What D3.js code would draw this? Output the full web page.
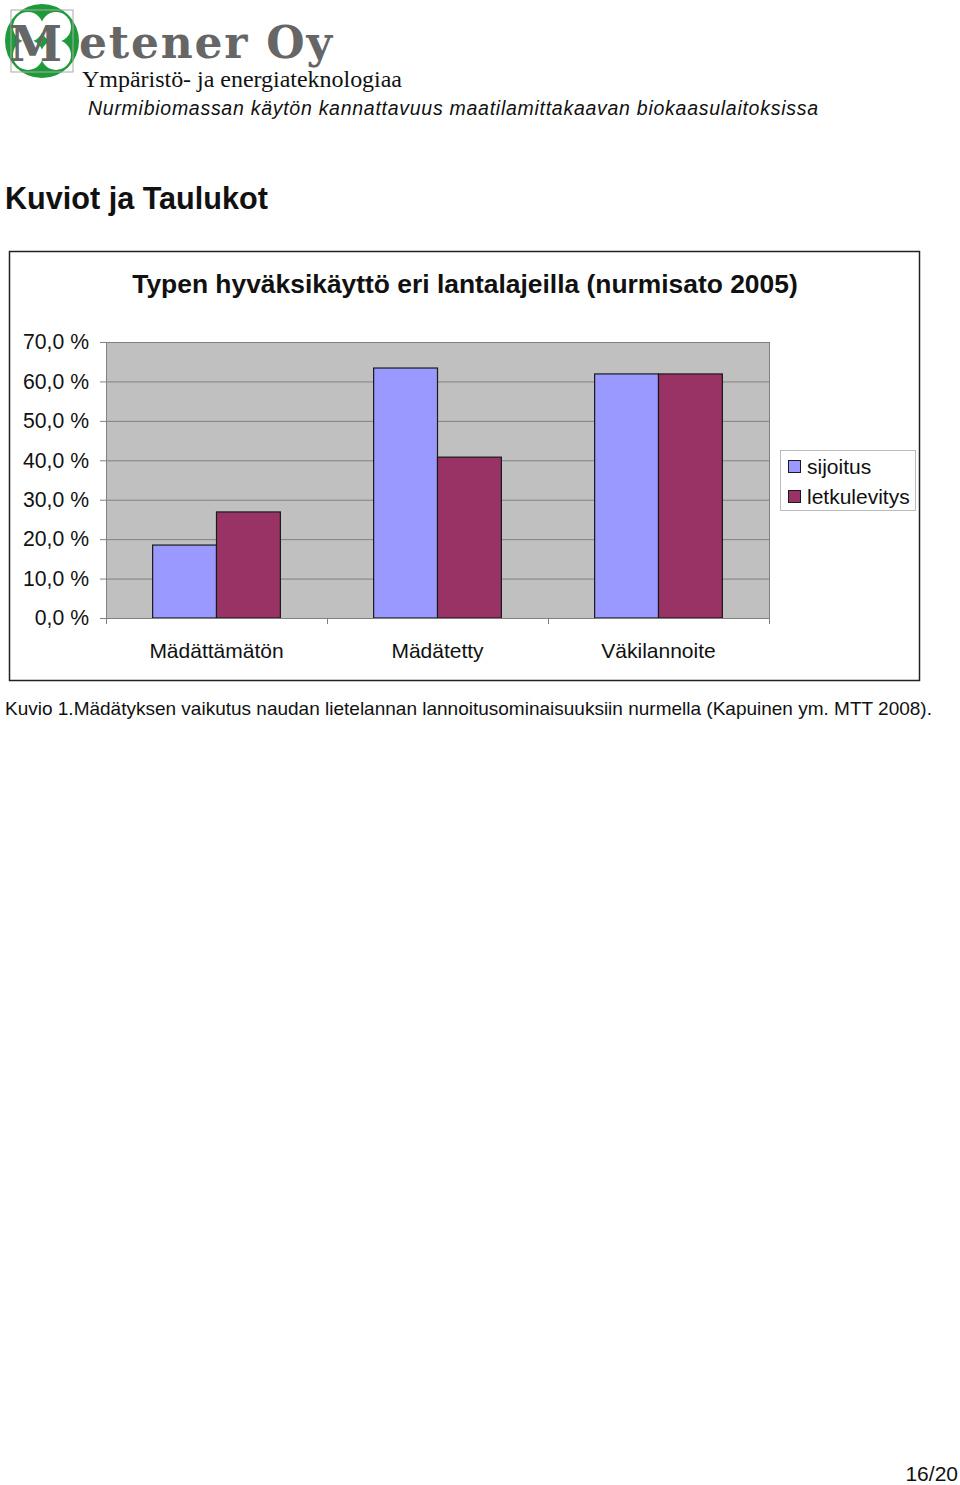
<!DOCTYPE html>
<html>
<head>
<meta charset="utf-8">
<script src="https://cdn.jsdelivr.net/npm/d3@7"></script>
<style>
  html, body { margin: 0; padding: 0; background: #fff; }
  svg { display: block; font-family: "Liberation Sans", Arial, sans-serif; }
</style>
</head>
<body>
<svg id="svg" width="960" height="1485"></svg>
<script>
// chart data
const categories = ["Mädättämätön", "Mädätetty", "Väkilannoite"];
const seriesNames = ["sijoitus", "letkulevitys"];
const sijoitus = [18.5, 63.4, 61.9];
const letkulevitys = [26.9, 40.8, 61.9];
const yTicks = [0, 10, 20, 30, 40, 50, 60, 70];
const colors = ["#9999ff", "#993366"];

const svg = d3.select("#svg");

// ---- page header / logo
const logo = svg.append("g");
logo.append("circle").attr("cx", 42).attr("cy", 41).attr("r", 37).attr("fill", "#1f9a3a");
[[-14, -14], [14, -14], [-14, 14], [14, 14]].forEach(([dx, dy]) => {
  logo.append("circle")
    .attr("cx", 42 + dx).attr("cy", 41 + dy).attr("r", 15)
    .attr("fill", "#fff");
});
logo.append("rect")
  .attr("x", 11).attr("y", 10).attr("width", 62).attr("height", 62)
  .attr("fill", "none").attr("stroke", "#aaa").attr("stroke-width", 1);
logo.append("text")
  .attr("x", 9).attr("y", 61)
  .style("font-family", "'DejaVu Serif', serif")
  .style("font-weight", "bold")
  .style("font-size", "48px")
  .attr("fill", "#666")
  .text("M");
logo.append("text")
  .attr("x", 79).attr("y", 58)
  .style("font-family", "'DejaVu Serif', serif")
  .style("font-weight", "bold")
  .style("font-size", "44px")
  .attr("fill", "#666")
  .attr("textLength", 253)
  .text("etener Oy");
logo.append("text")
  .attr("x", 82).attr("y", 87)
  .style("font-family", "'Liberation Serif', 'Times New Roman', serif")
  .style("font-size", "24px")
  .attr("fill", "#111")
  .attr("textLength", 320)
  .text("Ympäristö- ja energiateknologiaa");

svg.append("text")
  .attr("x", 88).attr("y", 115)
  .style("font-style", "italic")
  .style("font-size", "19.5px")
  .attr("fill", "#111")
  .attr("textLength", 730)
  .text("Nurmibiomassan käytön kannattavuus maatilamittakaavan biokaasulaitoksissa");

svg.append("text")
  .attr("x", 5).attr("y", 209)
  .style("font-weight", "bold")
  .style("font-size", "30.6px")
  .attr("fill", "#111")
  .text("Kuviot ja Taulukot");

// ---- chart frame
svg.append("rect")
  .attr("x", 9.5).attr("y", 251.5).attr("width", 910).attr("height", 429)
  .attr("fill", "#fff").attr("stroke", "#222").attr("stroke-width", 1.5);

svg.append("text")
  .attr("x", 465).attr("y", 293)
  .attr("text-anchor", "middle")
  .style("font-weight", "bold")
  .style("font-size", "26.4px")
  .attr("fill", "#111")
  .text("Typen hyväksikäyttö eri lantalajeilla (nurmisato 2005)");

// ---- scales
const plot = { left: 106, right: 769, top: 342, bottom: 618 };
const y = d3.scaleLinear().domain([0, 70]).range([plot.bottom, plot.top]);
const x0 = d3.scaleBand().domain(categories).range([plot.left, plot.right]).padding(0);
const x1 = d3.scaleBand().domain(seriesNames).range([0, x0.bandwidth()])
  .paddingInner(0).paddingOuter(0.73);

const g = svg.append("g");

g.append("rect")
  .attr("x", plot.left).attr("y", plot.top)
  .attr("width", plot.right - plot.left).attr("height", plot.bottom - plot.top)
  .attr("fill", "#c0c0c0");

// gridlines
g.selectAll("line.grid")
  .data(yTicks)
  .enter()
  .append("line")
  .attr("class", "grid")
  .attr("x1", plot.left - 6).attr("x2", plot.right)
  .attr("y1", (d) => y(d) + 0.5).attr("y2", (d) => y(d) + 0.5)
  .attr("stroke", "#808080").attr("stroke-width", 1);

g.append("line")
  .attr("x1", plot.right + 0.5).attr("x2", plot.right + 0.5)
  .attr("y1", plot.top).attr("y2", plot.bottom)
  .attr("stroke", "#808080");
g.append("line")
  .attr("x1", plot.left + 0.5).attr("x2", plot.left + 0.5)
  .attr("y1", plot.top).attr("y2", plot.bottom + 6)
  .attr("stroke", "#808080");

// y axis labels
const yAxis = d3.axisLeft(y)
  .tickValues(yTicks)
  .tickSize(0)
  .tickPadding(17)
  .tickFormat((d) => d3.format(".1f")(d).replace(".", ",") + " %");
const ya = svg.append("g").attr("transform", `translate(${plot.left},0)`).call(yAxis);
ya.select(".domain").remove();
ya.selectAll("text")
  .style("font-family", "'Liberation Sans', Arial, sans-serif")
  .style("font-size", "21.2px")
  .attr("fill", "#111");

// x axis
const xAxis = d3.axisBottom(x0).tickSize(0).tickPadding(25);
const xa = svg.append("g").attr("transform", `translate(0,${plot.bottom})`).call(xAxis);
xa.select(".domain").attr("stroke", "#808080");
xa.selectAll("text")
  .style("font-family", "'Liberation Sans', Arial, sans-serif")
  .style("font-size", "21px")
  .attr("fill", "#111");
// category separator ticks
g.selectAll("line.xtick")
  .data(categories.map((c) => x0(c) + x0.bandwidth()))
  .enter()
  .append("line")
  .attr("class", "xtick")
  .attr("x1", (d) => d + 0.5).attr("x2", (d) => d + 0.5)
  .attr("y1", plot.bottom).attr("y2", plot.bottom + 6)
  .attr("stroke", "#808080");

// bars
const rows = categories.map((c, i) => ({ cat: c, values: [sijoitus[i], letkulevitys[i]] }));
const grp = g.selectAll("g.cat")
  .data(rows)
  .enter()
  .append("g")
  .attr("class", "cat")
  .attr("transform", (d) => `translate(${x0(d.cat)},0)`);
grp.selectAll("rect")
  .data((d) => d.values.map((v, j) => ({ s: seriesNames[j], v, j })))
  .enter()
  .append("rect")
  .attr("x", (d) => x1(d.s))
  .attr("y", (d) => y(d.v))
  .attr("width", x1.bandwidth())
  .attr("height", (d) => y(0) - y(d.v))
  .attr("fill", (d) => colors[d.j])
  .attr("stroke", "#1a1a1a")
  .attr("stroke-width", 1.2);

// legend
const leg = svg.append("g").attr("transform", "translate(780,450)");
leg.append("rect")
  .attr("x", 0.5).attr("y", 0.5).attr("width", 135).attr("height", 60)
  .attr("fill", "#fff").attr("stroke", "#bbb");
seriesNames.forEach((s, i) => {
  leg.append("rect")
    .attr("x", 8.5).attr("y", 10.5 + i * 30).attr("width", 12).attr("height", 12)
    .attr("fill", colors[i]).attr("stroke", "#1a1a1a");
  leg.append("text")
    .attr("x", 27).attr("y", 24 + i * 30)
    .style("font-size", "21px")
    .attr("fill", "#111")
    .text(s);
});

// caption and page number
svg.append("text")
  .attr("x", 5).attr("y", 715)
  .style("font-size", "19px")
  .attr("fill", "#111")
  .text("Kuvio 1.Mädätyksen vaikutus naudan lietelannan lannoitusominaisuuksiin nurmella (Kapuinen ym. MTT 2008).");

svg.append("text")
  .attr("x", 958).attr("y", 1481)
  .attr("text-anchor", "end")
  .style("font-size", "21px")
  .attr("fill", "#111")
  .text("16/20");
</script>
</body>
</html>
